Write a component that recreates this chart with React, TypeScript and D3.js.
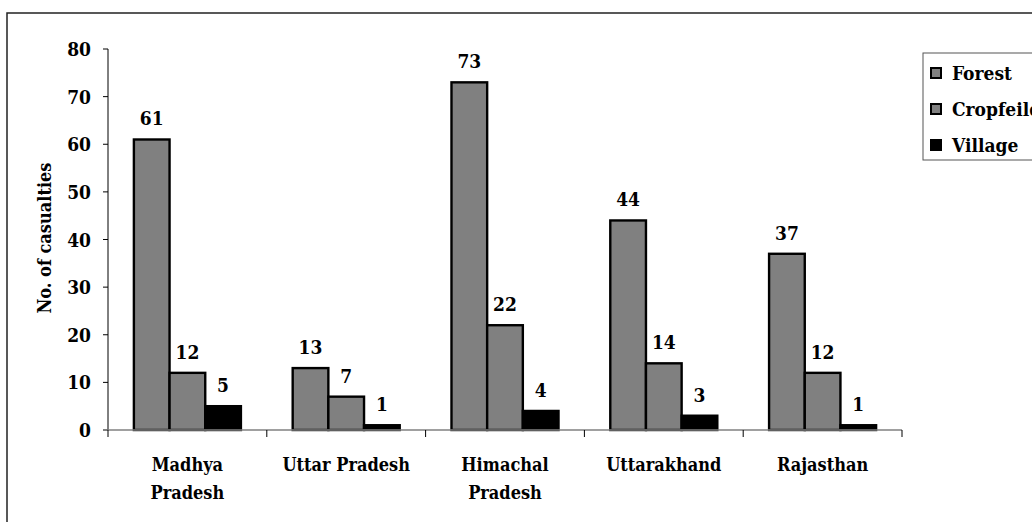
import { useEffect, useRef } from 'react';
import * as d3 from 'd3';

const states = ['Madhya Pradesh', 'Uttar Pradesh', 'Himachal Pradesh', 'Uttarakhand', 'Rajasthan'];
const stateLines = [['Madhya', 'Pradesh'], ['Uttar Pradesh'], ['Himachal', 'Pradesh'], ['Uttarakhand'], ['Rajasthan']];
const seriesNames = ['Forest', 'Cropfeilds', 'Village'];
const forest = [61, 13, 73, 44, 37];
const cropfield = [12, 7, 22, 14, 12];
const village = [5, 1, 4, 3, 1];
const yTicks = [0, 10, 20, 30, 40, 50, 60, 70, 80];

const FONT = "'DejaVu Serif Condensed', 'DejaVu Serif', serif";

export default function App() {
  const svgRef = useRef<SVGSVGElement>(null);

  useEffect(() => {
    if (!svgRef.current) return;
    const svg = d3.select(svgRef.current);
    svg.selectAll('*').remove();

    const series = [forest, cropfield, village];
    const fills = ['#808080', '#808080', '#000000'];

    // outer frame (runs off the right and bottom edges)
    svg.append('rect')
      .attr('x', 7).attr('y', 13).attr('width', 1100).attr('height', 600)
      .attr('fill', '#fff').attr('stroke', '#222').attr('stroke-width', 1.5);

    const left = 108, right = 902, top = 49, bottom = 430;

    const x0 = d3.scaleBand<string>().domain(states).range([left, right]);
    const bw = x0.bandwidth();
    const x1 = d3.scaleBand<string>().domain(seriesNames).range([bw * 0.163, bw * 0.837]);
    const y = d3.scaleLinear().domain([0, 80]).range([bottom, top]);

    const g = svg.append('g').attr('font-family', FONT).attr('font-weight', 'bold');

    // bars
    series.forEach((vals, si) => {
      g.selectAll(`.bar-${si}`)
        .data(vals)
        .enter()
        .append('rect')
        .attr('x', (_, i) => (x0(states[i]) || 0) + (x1(seriesNames[si]) || 0))
        .attr('y', d => y(d))
        .attr('width', x1.bandwidth())
        .attr('height', d => y(0) - y(d))
        .attr('fill', fills[si])
        .attr('stroke', '#000')
        .attr('stroke-width', 2.4);

      g.selectAll(`.lbl-${si}`)
        .data(vals)
        .enter()
        .append('text')
        .attr('x', (_, i) => (x0(states[i]) || 0) + (x1(seriesNames[si]) || 0) + x1.bandwidth() / 2)
        .attr('y', d => y(d) - 14)
        .attr('text-anchor', 'middle')
        .attr('font-size', 19)
        .text(d => String(d));
    });

    // y axis
    g.append('line')
      .attr('x1', left).attr('x2', left).attr('y1', top).attr('y2', bottom)
      .attr('stroke', '#000').attr('stroke-width', 1);
    yTicks.forEach(t => {
      g.append('line')
        .attr('x1', left - 5).attr('x2', left).attr('y1', y(t)).attr('y2', y(t))
        .attr('stroke', '#000').attr('stroke-width', 1);
      g.append('text')
        .attr('x', left - 17).attr('y', y(t) + 7)
        .attr('text-anchor', 'end')
        .attr('font-size', 19)
        .text(t);
    });

    // x axis
    g.append('line')
      .attr('x1', left - 5).attr('x2', right).attr('y1', bottom).attr('y2', bottom)
      .attr('stroke', '#808080').attr('stroke-width', 1.5);
    const bounds = states.map(s => x0(s) || 0).concat([right]);
    bounds.forEach(bx => {
      g.append('line')
        .attr('x1', bx).attr('x2', bx).attr('y1', bottom).attr('y2', bottom + 7)
        .attr('stroke', '#000').attr('stroke-width', 1);
    });

    // category labels
    states.forEach((s, i) => {
      const t = g.append('text')
        .attr('text-anchor', 'middle')
        .attr('font-size', 18);
      stateLines[i].forEach((line, li) => {
        t.append('tspan')
          .attr('x', (x0(s) || 0) + bw / 2)
          .attr('y', 471 + li * 28)
          .text(line);
      });
    });

    // axis title
    g.append('text')
      .attr('transform', 'translate(51,238) rotate(-90)')
      .attr('text-anchor', 'middle')
      .attr('font-size', 18)
      .text('No. of casualties');

    // legend
    const lg = g.append('g').attr('transform', 'translate(923,53)');
    lg.append('rect')
      .attr('x', 0).attr('y', 0).attr('width', 200).attr('height', 107)
      .attr('fill', '#fff').attr('stroke', '#555').attr('stroke-width', 1);
    seriesNames.forEach((name, i) => {
      const cy = 20 + i * 36;
      lg.append('rect')
        .attr('x', 8).attr('y', cy - 5).attr('width', 10).attr('height', 10)
        .attr('fill', fills[i]).attr('stroke', '#000').attr('stroke-width', 2);
      lg.append('text')
        .attr('x', 29).attr('y', cy + 7)
        .attr('font-size', 19)
        .text(name);
    });
  }, []);

  return (
    <svg
      ref={svgRef}
      width={1032}
      height={522}
      style={{ position: 'absolute', left: 0, top: 0, background: '#fff' }}
    />
  );
}
